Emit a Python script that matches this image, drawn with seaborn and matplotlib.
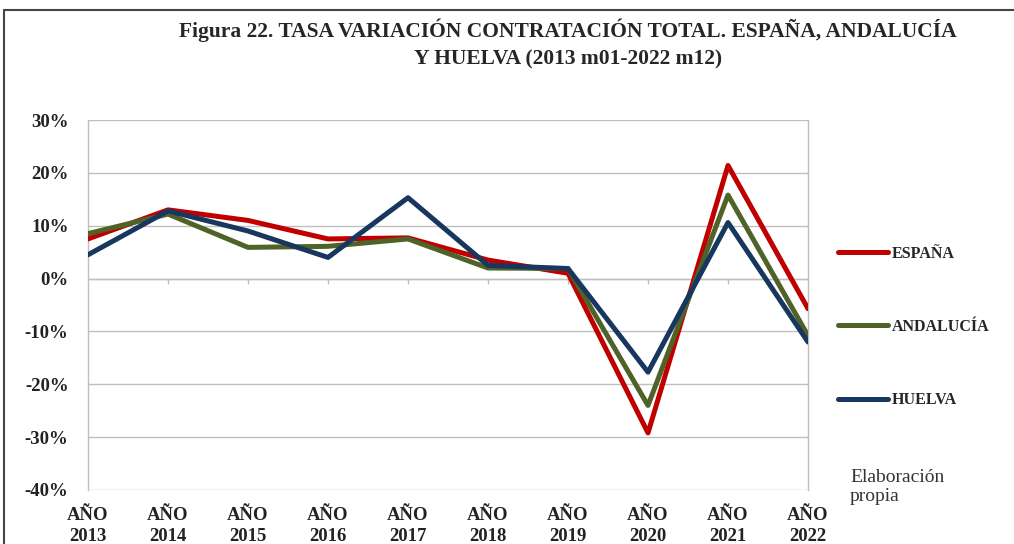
import matplotlib
matplotlib.use("Agg")
import matplotlib.pyplot as plt
import seaborn as sns
import pandas as pd
from matplotlib.lines import Line2D

sns.set_style("white")
plt.rcParams['font.family'] = ['Liberation Serif', 'DejaVu Serif']

# data (percent)
years = [f"AÑO\n{y}" for y in range(2013, 2023)]
espana = [7.5, 13.0, 11.0, 7.5, 7.7, 3.5, 1.0, -29.2, 21.4, -5.7]
andalucia = [8.5, 12.2, 5.9, 6.1, 7.5, 2.0, 1.9, -24.0, 15.8, -10.8]
huelva = [4.5, 12.8, 9.0, 4.0, 15.3, 2.5, 1.9, -17.7, 10.6, -12.0]
series_names = ["ESPAÑA", "ANDALUCÍA", "HUELVA"]
colors = ["#C00000", "#4F6228", "#17375E"]

rows = []
for name, vals in zip(series_names, [espana, andalucia, huelva]):
    for i, v in enumerate(vals):
        rows.append({"idx": i, "valor": v, "serie": name})
df = pd.DataFrame(rows)

fig = plt.figure(figsize=(10.14, 5.44), dpi=100)
ax = fig.add_axes([88/1014, 1 - 490/544, 720/1014, 370/544])

sns.lineplot(data=df, x="idx", y="valor", hue="serie", palette=colors,
             linewidth=3.6, ax=ax, legend=False, zorder=3)

ax.set_xlim(0, len(years) - 1)
ax.set_ylim(-40, 30)
ax.set_yticks(range(-40, 31, 10))
ax.set_yticklabels([f"{t}%" for t in range(-40, 31, 10)],
                   fontsize=13.5, fontweight='bold', color='#222222')
ax.set_xticks(range(len(years)))
ax.set_xticklabels(years, fontsize=13.5, fontweight='bold', color='#222222',
                   linespacing=1.35)
ax.tick_params(axis='x', length=0, pad=12)
ax.tick_params(axis='y', length=6, width=1, color='#BFBFBF', pad=8)
ax.set_xlabel("")
ax.set_ylabel("")

ax.grid(axis='y', color='#BFBFBF', linewidth=1)
ax.set_axisbelow(True)
for s in ['top', 'bottom']:
    ax.spines[s].set_visible(False)
for s in ['left', 'right']:
    ax.spines[s].set_color('#BFBFBF')
    ax.spines[s].set_linewidth(1)

# category axis crosses at 0 with small tick marks
ax.axhline(0, color='#BFBFBF', linewidth=1, zorder=1)
ax.vlines(range(1, len(years) - 1), -1.0, 0, color='#BFBFBF', linewidth=1, zorder=1)

handles = [Line2D([0], [0], color=c, linewidth=3.6) for c in colors]
leg = fig.legend(handles, series_names, loc='center left',
                 bbox_to_anchor=(838/1014, 1 - 327/544), frameon=False,
                 prop={'weight': 'bold', 'size': 11.5}, handlelength=3.1,
                 handletextpad=0.25, labelspacing=3.6, borderpad=0, borderaxespad=0)

fig.text(850/1014, 1 - 487/544, "Elaboración\npropia", fontsize=14,
         color='#333333', ha='left', va='center', linespacing=1.2)

fig.text(568/1014, 1 - 44/544,
         "Figura 22. TASA VARIACIÓN CONTRATACIÓN TOTAL. ESPAÑA, ANDALUCÍA\nY HUELVA (2013 m01-2022 m12)",
         fontsize=15.5, fontweight='bold', ha='center', va='center', linespacing=1.45)

# outer chart frame
fig.add_artist(Line2D([4/1014, 4/1014], [0, 1 - 10/544], color='#444444', linewidth=1.5))
fig.add_artist(Line2D([4/1014, 1], [1 - 10/544, 1 - 10/544], color='#444444', linewidth=1.5))

fig.savefig("out.png", dpi=100)
